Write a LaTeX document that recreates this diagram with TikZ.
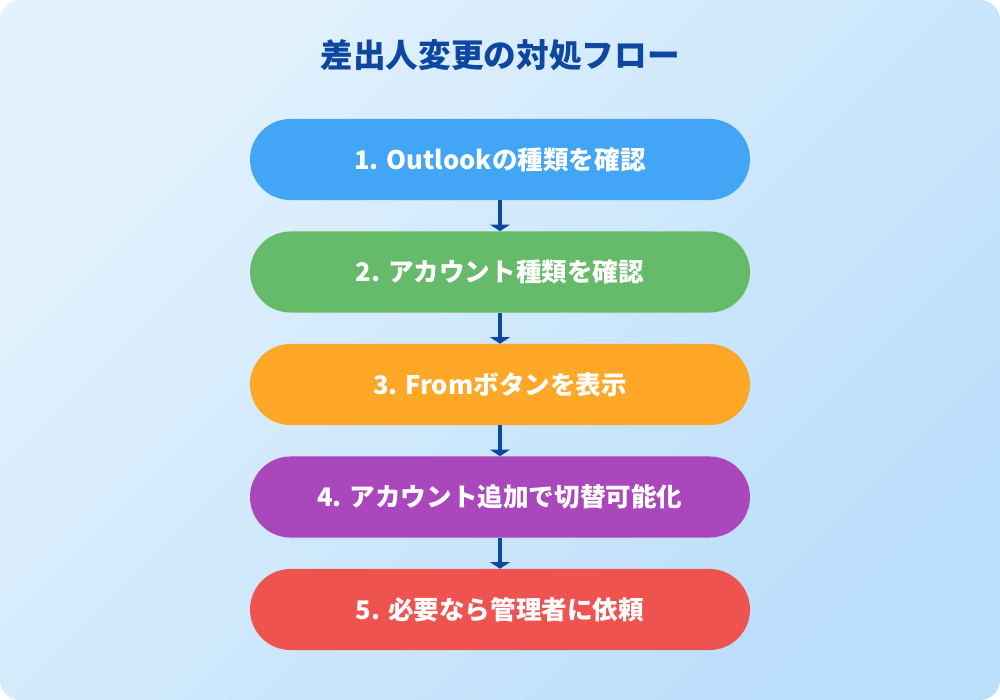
\documentclass[tikz,border=0pt]{standalone}
\usepackage{fontspec}
\setmainfont{Noto Sans CJK JP}
\usepackage{tikz}
\usetikzlibrary{arrows.meta}

\definecolor{bgtop}{HTML}{E3F2FD}
\definecolor{bgbot}{HTML}{BBDEFB}
\definecolor{titleblue}{HTML}{0D47A1}
\definecolor{stepblue}{HTML}{42A5F5}
\definecolor{stepgreen}{HTML}{66BB6A}
\definecolor{steporange}{HTML}{FFA726}
\definecolor{steppurple}{HTML}{AB47BC}
\definecolor{stepred}{HTML}{EF5350}

\tikzset{
  stepbox/.style={draw=none, rounded corners=30.4pt, minimum width=375pt, minimum height=60.8pt,
    text=white, font=\fontsize{19.2}{23}\selectfont\bfseries},
  flow/.style={draw=titleblue, line width=3pt, -{Triangle[width=15pt,length=5pt]}}
}

\begin{document}
\begin{tikzpicture}[x=0.75pt,y=0.75pt,yscale=-1,xscale=1]
\useasboundingbox (0,0) rectangle (1000,700);

%Background
\shade [rounded corners=15pt, top color=bgtop, bottom color=bgbot, shading angle=45] (0,0) rectangle (1000,700);

% Title
\node (title) at (500,55) [text=titleblue, font=\fontsize{24.5}{29}\selectfont\bfseries] {差出人変更の対処フロー};

% Step Nodes
\node (s1) at (500,159.5) [stepbox, fill=stepblue] {1. Outlookの種類を確認};
\node (s2) at (500,272) [stepbox, fill=stepgreen] {2. アカウント種類を確認};
\node (s3) at (500,384.5) [stepbox, fill=steporange] {3. Fromボタンを表示};
\node (s4) at (500,497) [stepbox, fill=steppurple] {4. アカウント追加で切替可能化};
\node (s5) at (500,609.5) [stepbox, fill=stepred] {5. 必要なら管理者に依頼};

%Arrows
\draw [flow] (s1) -- (s2);
\draw [flow] (s2) -- (s3);
\draw [flow] (s3) -- (s4);
\draw [flow] (s4) -- (s5);

\end{tikzpicture}
\end{document}
